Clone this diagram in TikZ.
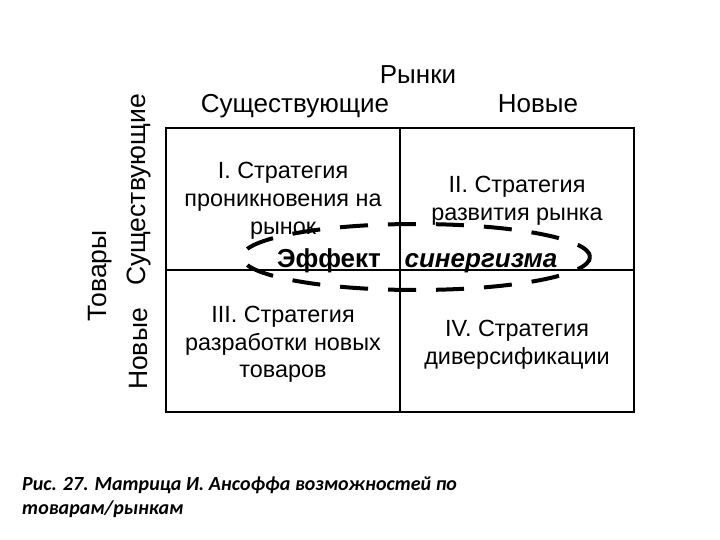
\documentclass[tikz,border=0pt]{standalone}
\usepackage{fontspec}
\setmainfont{Liberation Sans}
\newfontfamily\capfont{Carlito}
\begin{document}
\begin{tikzpicture}[x=1pt,y=-1pt,
  grid/.style={line width=2.5pt},
  lbl/.style={font=\fontsize{26}{30}\selectfont, inner sep=0pt, anchor=base},
  rlbl/.style={font=\fontsize{26.5}{30}\selectfont, inner sep=0pt, rotate=90},
  cell/.style={font=\fontsize{23.4}{27}\selectfont, inner sep=0pt, anchor=base},
  syn/.style={font=\fontsize{26}{30}\selectfont\bfseries, inner sep=0pt, anchor=base},
  capt/.style={font=\capfont\fontsize{20}{25}\selectfont\bfseries\itshape, inner sep=0pt, anchor=base west}]
\useasboundingbox (0,0) rectangle (720,540);
\coordinate (tl) at (166,128);
\coordinate (br) at (634,412);
\coordinate (mt) at (400,128);
\coordinate (mb) at (400,412);
\coordinate (ml) at (166,270);
\coordinate (mr) at (634,270);
\draw[grid] (tl) rectangle (br);
\draw[grid] (mt) -- (mb);
\draw[grid] (ml) -- (mr);
\node[lbl] (rynki) at (418,84) {Рынки};
\node[lbl] (sushch) at (295,113) {Существующие};
\node[lbl] (novye) at (538,113) {Новые};
\node[rlbl] (tovary) at (100,276) {Товары};
\node[rlbl] (sushchL) at (139,190) {Существующие};
\node[rlbl] (novyeL) at (139,349) {Новые};
\node[cell] (c1a) at (283,179) {I. Стратегия};
\node[cell] (c1b) at (283,207) {проникновения на};
\node[cell] (c1c) at (283,234) {рынок};
\node[cell] (c2a) at (517,193) {II. Стратегия};
\node[cell] (c2b) at (517,221) {развития рынка};
\node[cell] (c3a) at (283,322) {III. Стратегия};
\node[cell] (c3b) at (283,350) {разработки новых};
\node[cell] (c3c) at (283,377) {товаров};
\node[cell] (c4a) at (517,336) {IV. Стратегия};
\node[cell] (c4b) at (517,364) {диверсификации};
\node[syn] (eff) at (329,267) {Эффект};
\node[syn, font=\fontsize{26}{30}\selectfont\bfseries\itshape] (sin) at (481,267) {синергизма};
\draw[line width=4pt, dash pattern=on 28pt off 20pt, dash phase=10pt] (416,257) ellipse [x radius=174, y radius=33];
\node[capt] (cap1) at (22,490) {Рис. 27. Матрица И. Ансоффа возможностей по};
\node[capt] (cap2) at (22,514) {товарам/рынкам};
\end{tikzpicture}
\end{document}
